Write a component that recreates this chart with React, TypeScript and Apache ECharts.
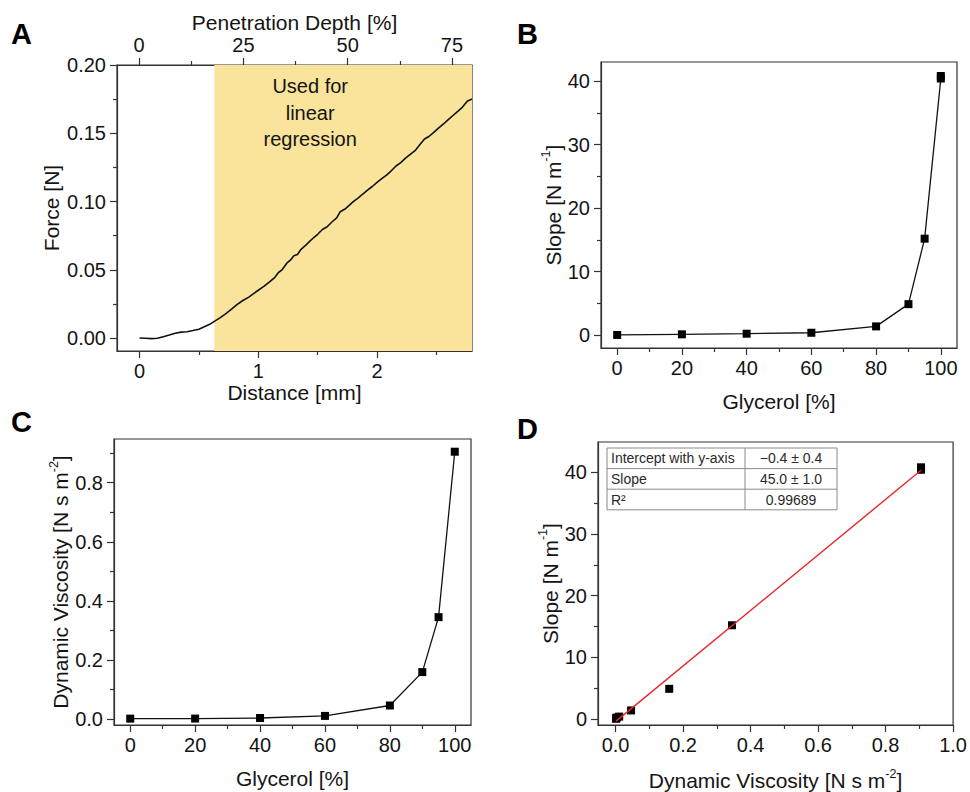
import React, { useEffect, useRef } from 'react';
import * as echarts from 'echarts';

// ---------- data ----------
// Panel A: force-distance curve
const distanceMm = [
  0.0, 0.05, 0.1, 0.15, 0.2, 0.25, 0.3, 0.35, 0.4, 0.45, 0.5, 0.55, 0.6, 0.63, 0.68, 0.73, 0.78, 0.82,
  0.87, 0.92, 0.96, 1.0, 1.05, 1.1, 1.14, 1.17, 1.2, 1.24, 1.27, 1.3, 1.33, 1.36, 1.4, 1.43, 1.47, 1.5,
  1.54, 1.58, 1.62, 1.66, 1.69, 1.73, 1.77, 1.8, 1.84, 1.88, 1.92, 1.96, 2.0, 2.04, 2.08, 2.12, 2.16,
  2.2, 2.24, 2.28, 2.32, 2.36, 2.4, 2.44, 2.48, 2.52, 2.56, 2.6, 2.64, 2.68, 2.72, 2.76, 2.8,
];
const forceN = [
  0.0, -0.0002, -0.0004, -0.0002, 0.001, 0.0022, 0.0035, 0.0043, 0.0046, 0.0055, 0.0065, 0.0085, 0.0105,
  0.0122, 0.015, 0.018, 0.0215, 0.0245, 0.0275, 0.03, 0.0325, 0.035, 0.038, 0.0415, 0.0445, 0.048, 0.05,
  0.0548, 0.057, 0.0603, 0.0612, 0.065, 0.068, 0.0706, 0.0738, 0.076, 0.0795, 0.0815, 0.085, 0.088,
  0.0925, 0.0945, 0.0975, 0.0999, 0.1025, 0.1055, 0.1083, 0.111, 0.114, 0.1167, 0.1194, 0.1225, 0.126,
  0.1285, 0.1318, 0.1345, 0.1372, 0.1415, 0.1458, 0.1478, 0.1508, 0.154, 0.1568, 0.16, 0.163, 0.166,
  0.1692, 0.1735, 0.1751,
];
const regressionStartMm = 0.63;
const distanceTicks = [0, 1, 2];
const distanceMinor = [0.5, 1.5, 2.5];
const penetrationTicks = [0, 25, 50, 75];
const penetrationMinor = [12.5, 37.5, 62.5];
const forceTicks = [0, 0.05, 0.1, 0.15, 0.2];
const forceMinor = [0.025, 0.075, 0.125, 0.175];

// Panels B, C, D
const glycerolPct = [0, 20, 40, 60, 80, 90, 95, 100, 100];
const slopeNm = [0.05, 0.15, 0.25, 0.4, 1.4, 4.9, 15.2, 40.4, 40.8];
const viscosityNsm2 = [0.0015, 0.0018, 0.0037, 0.0108, 0.046, 0.159, 0.345, 0.905, 0.905];
const glycerolTicks = [0, 20, 40, 60, 80, 100];
const glycerolMinor = [10, 30, 50, 70, 90];
const slopeTicks = [0, 10, 20, 30, 40];
const slopeMinor = [5, 15, 25, 35];
const viscTicksC = [0, 0.2, 0.4, 0.6, 0.8];
const viscMinorC = [0.1, 0.3, 0.5, 0.7, 0.9];
const viscTicksD = [0, 0.2, 0.4, 0.6, 0.8, 1.0];
const viscMinorD = [0.1, 0.3, 0.5, 0.7, 0.9];

// Linear fit (panel D)
const fitIntercept = -0.4;
const fitSlope = 45.0;
const tableLabels = ['Intercept with y-axis', 'Slope', 'R²'];
const tableValues = ['\u22120.4 ± 0.4', '45.0 ± 1.0', '0.99689'];

// ---------- styling ----------
const FONT = "'Liberation Sans', Arial, Helvetica, sans-serif";
const INK = '#141414';
const AXIS = '#333333';

const nameRich = {
  a: { fontSize: 21, lineHeight: 27, fontFamily: FONT, color: INK },
  s: { fontSize: 12.5, lineHeight: 12, fontFamily: FONT, color: INK, verticalAlign: 'top' },
};

function mainAxis(o: any) {
  return {
    type: 'value',
    gridIndex: o.grid,
    position: o.pos,
    min: o.min,
    max: o.max,
    axisLine: { show: true, onZero: false, lineStyle: { color: AXIS, width: 1.2 } },
    axisTick: { show: true, inside: false, length: 7, customValues: o.major, lineStyle: { color: AXIS, width: 1.2 } },
    axisLabel: {
      show: true,
      customValues: o.major,
      formatter: (v: number) => v.toFixed(o.dec),
      fontSize: 20,
      fontFamily: FONT,
      color: INK,
      margin: o.margin ?? 11,
    },
    splitLine: { show: false },
    name: o.name,
    nameLocation: 'middle',
    nameGap: o.nameGap,
    nameTextStyle: { fontSize: 21, fontFamily: FONT, color: INK, rich: nameRich },
  };
}

function minorAxis(o: any) {
  return {
    type: 'value',
    gridIndex: o.grid,
    position: o.pos,
    min: o.min,
    max: o.max,
    axisLine: { show: false, onZero: false },
    axisTick: { show: true, inside: false, length: 4, customValues: o.minor, lineStyle: { color: AXIS, width: 1.2 } },
    axisLabel: { show: false },
    splitLine: { show: false },
  };
}

const gridA = { left: 117, top: 65, width: 355, height: 286 };
const gridB = { left: 601, top: 62, width: 356, height: 286 };
const gridC = { left: 114, top: 439, width: 357, height: 286 };
const gridD = { left: 598, top: 442, width: 358, height: 286 };

function buildOption() {
  const xA = { min: -0.19, max: 2.8 };
  const xTop = { min: -5.3, max: 79.8 };
  const yA = { min: -0.0095, max: 0.2 };
  const xG = { min: -5, max: 105 };
  const yB = { min: -2, max: 43 };
  const yC = { min: -0.02, max: 0.948 };
  const xD = { min: -0.052, max: 1.0 };
  const yD = { min: -0.96, max: 44.9 };

  const xAxis = [
    mainAxis({ grid: 0, pos: 'bottom', ...xA, major: distanceTicks, dec: 0, name: 'Distance [mm]', nameGap: 30, margin: 10 }),
    minorAxis({ grid: 0, pos: 'bottom', ...xA, minor: distanceMinor }),
    mainAxis({ grid: 0, pos: 'top', ...xTop, major: penetrationTicks, dec: 0, name: 'Penetration Depth [%]', nameGap: 32, margin: 10 }),
    minorAxis({ grid: 0, pos: 'top', ...xTop, minor: penetrationMinor }),
    mainAxis({ grid: 1, pos: 'bottom', ...xG, major: glycerolTicks, dec: 0, name: 'Glycerol [%]', nameGap: 43, margin: 10 }),
    minorAxis({ grid: 1, pos: 'bottom', ...xG, minor: glycerolMinor }),
    mainAxis({ grid: 2, pos: 'bottom', ...xG, major: glycerolTicks, dec: 0, name: 'Glycerol [%]', nameGap: 43, margin: 10 }),
    minorAxis({ grid: 2, pos: 'bottom', ...xG, minor: glycerolMinor }),
    mainAxis({ grid: 3, pos: 'bottom', ...xD, major: viscTicksD, dec: 1, name: '{a|Dynamic Viscosity [N s m}{s|-2}{a|]}', nameGap: 42, margin: 10 }),
    minorAxis({ grid: 3, pos: 'bottom', ...xD, minor: viscMinorD }),
  ];
  const yAxis = [
    mainAxis({ grid: 0, pos: 'left', ...yA, major: forceTicks, dec: 2, name: 'Force [N]', nameGap: 55 }),
    minorAxis({ grid: 0, pos: 'left', ...yA, minor: forceMinor }),
    mainAxis({ grid: 1, pos: 'left', ...yB, major: slopeTicks, dec: 0, name: '{a|Slope [N m}{s|-1}{a|]}', nameGap: 34 }),
    minorAxis({ grid: 1, pos: 'left', ...yB, minor: slopeMinor }),
    mainAxis({ grid: 2, pos: 'left', ...yC, major: viscTicksC, dec: 1, name: '{a|Dynamic Viscosity [N s m}{s|-2}{a|]}', nameGap: 39 }),
    minorAxis({ grid: 2, pos: 'left', ...yC, minor: viscMinorC }),
    mainAxis({ grid: 3, pos: 'left', ...yD, major: slopeTicks, dec: 0, name: '{a|Slope [N m}{s|-1}{a|]}', nameGap: 33 }),
    minorAxis({ grid: 3, pos: 'left', ...yD, minor: slopeMinor }),
  ];

  const gridStyle = { show: true, borderColor: AXIS, borderWidth: 1.2, backgroundColor: 'transparent' };
  const grid = [gridA, gridB, gridC, gridD].map((g) => ({ ...g, ...gridStyle, containLabel: false }));

  const forceData = distanceMm.map((d, i) => [d, forceN[i]]);
  const slopeData = glycerolPct.map((g, i) => [g, slopeNm[i]]);
  const viscData = glycerolPct.slice(0, 8).map((g, i) => [g, viscosityNsm2[i]]);
  const dData = viscosityNsm2.map((v, i) => [v, slopeNm[i]]);
  const vMin = Math.min(...viscosityNsm2);
  const vMax = Math.max(...viscosityNsm2);
  const fitData = [vMin, vMax].map((v) => [v, fitIntercept + fitSlope * v]);

  const markerStyle = { color: '#000', opacity: 1 };

  const series: any[] = [
    {
      type: 'line',
      xAxisIndex: 0,
      yAxisIndex: 0,
      data: forceData,
      showSymbol: false,
      symbol: 'none',
      lineStyle: { color: '#111', width: 1.6 },
      z: 3,
      markArea: {
        silent: true,
        itemStyle: { color: '#fae39b' },
        label: {
          show: true,
          position: 'insideTop',
          distance: 8,
          offset: [-33, 0],
          formatter: 'Used for\nlinear\nregression',
          fontSize: 20,
          lineHeight: 26.5,
          fontFamily: FONT,
          color: INK,
          align: 'center',
        },
        data: [[{ xAxis: regressionStartMm }, { xAxis: xA.max }]],
      },
    },
    {
      type: 'line',
      xAxisIndex: 4,
      yAxisIndex: 2,
      data: slopeData,
      symbol: 'rect',
      symbolSize: 8,
      itemStyle: markerStyle,
      lineStyle: { color: '#111', width: 1.3 },
    },
    {
      type: 'line',
      xAxisIndex: 6,
      yAxisIndex: 4,
      data: viscData,
      symbol: 'rect',
      symbolSize: 8,
      itemStyle: markerStyle,
      lineStyle: { color: '#111', width: 1.3 },
    },
    {
      type: 'scatter',
      xAxisIndex: 8,
      yAxisIndex: 6,
      data: dData,
      symbol: 'rect',
      symbolSize: 8,
      itemStyle: markerStyle,
      z: 2,
    },
    {
      type: 'line',
      xAxisIndex: 8,
      yAxisIndex: 6,
      data: fitData,
      showSymbol: false,
      symbol: 'none',
      lineStyle: { color: '#e8262b', width: 1.4 },
      z: 3,
    },
  ];

  // Table in panel D
  const tX = gridD.left + 9;
  const tY = gridD.top + 6;
  const rowH = 20.6;
  const col1 = 138;
  const col2 = 92;
  const tableEls: any[] = [];
  const lineStyle = { stroke: '#8a8a8a', lineWidth: 1 };
  tableEls.push({ type: 'rect', shape: { x: tX, y: tY, width: col1 + col2, height: rowH * 3 }, style: { fill: '#fff', ...lineStyle }, z: 10 });
  tableEls.push({ type: 'line', shape: { x1: tX + col1, y1: tY, x2: tX + col1, y2: tY + rowH * 3 }, style: lineStyle, z: 11 });
  for (let r = 1; r < 3; r++) {
    tableEls.push({ type: 'line', shape: { x1: tX, y1: tY + rowH * r, x2: tX + col1 + col2, y2: tY + rowH * r }, style: lineStyle, z: 11 });
  }
  tableLabels.forEach((lab, r) => {
    tableEls.push({
      type: 'text',
      x: tX + 4,
      y: tY + rowH * r + rowH / 2,
      style: { text: lab, fontSize: 14, fontFamily: FONT, fill: '#2a2a2a', align: 'left', verticalAlign: 'middle' },
      z: 12,
    });
    tableEls.push({
      type: 'text',
      x: tX + col1 + col2 / 2,
      y: tY + rowH * r + rowH / 2,
      style: { text: tableValues[r], fontSize: 14, fontFamily: FONT, fill: '#2a2a2a', align: 'center', verticalAlign: 'middle' },
      z: 12,
    });
  });

  const letter = (t: string, x: number, y: number) => ({
    type: 'text',
    x,
    y,
    style: { text: t, fontSize: 29, fontWeight: 'bold', fontFamily: FONT, fill: '#000', align: 'left', verticalAlign: 'top' },
  });

  return {
    animation: false,
    backgroundColor: '#fff',
    grid,
    xAxis,
    yAxis,
    series,
    graphic: [letter('A', 11, 19), letter('B', 517, 19), letter('C', 11, 407), letter('D', 517, 414), ...tableEls],
  };
}

export default function App() {
  const ref = useRef<HTMLDivElement>(null);
  useEffect(() => {
    document.body.style.margin = '0';
    if (!ref.current) return;
    const chart = echarts.init(ref.current, null, { renderer: 'svg' });
    chart.setOption(buildOption() as any);
    return () => chart.dispose();
  }, []);
  return <div ref={ref} style={{ width: 970, height: 792 }} />;
}
